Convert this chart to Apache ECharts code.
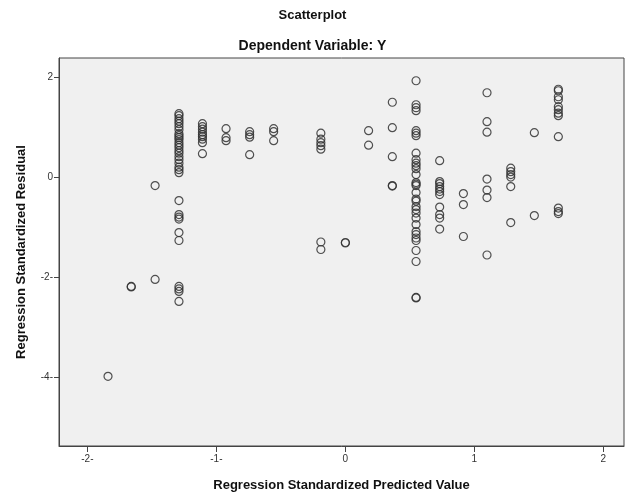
<!DOCTYPE html>
<html>
<head>
<meta charset="utf-8">
<script src="https://cdn.jsdelivr.net/npm/echarts@6/dist/echarts.min.js"></script>
<style>html,body{margin:0;padding:0;background:#fff}#c{width:625px;height:497px}</style>
</head>
<body>
<div id="c"></div>
<script>
// Regression standardized predicted value (x) and residual (y)
const predicted = [
  -1.84, -1.66, -1.66, -1.475, -1.475,
  -1.29,-1.29,-1.29,-1.29,-1.29,-1.29,-1.29,-1.29,-1.29,-1.29,-1.29,-1.29,-1.29,-1.29,-1.29,-1.29,-1.29,-1.29,-1.29,-1.29,-1.29,-1.29,
  -1.29,-1.29,-1.29,-1.29,-1.29,-1.29,-1.29,-1.29,-1.29,-1.29,
  -1.108,-1.108,-1.108,-1.108,-1.108,-1.108,-1.108,-1.108,-1.108,
  -0.925,-0.925,-0.925,
  -0.742,-0.742,-0.742,-0.742,
  -0.556,-0.556,-0.556,
  -0.19,-0.19,-0.19,-0.19,-0.19,-0.19,-0.19,
  0.0, 0.0,
  0.18, 0.18,
  0.364,0.364,0.364,0.364,0.364,
  0.548,0.548,0.548,0.548,0.548,0.548,0.548,0.548,0.548,0.548,0.548,0.548,0.548,0.548,0.548,0.548,0.548,0.548,
  0.548,0.548,0.548,0.548,0.548,0.548,0.548,0.548,0.548,0.548,0.548,0.548,0.548,0.548,
  0.731,0.731,0.731,0.731,0.731,0.731,0.731,0.731,0.731,0.731,0.731,
  0.915,0.915,0.915,
  1.098,1.098,1.098,1.098,1.098,1.098,1.098,
  1.282,1.282,1.282,1.282,1.282,1.282,
  1.465,1.465,
  1.651,1.651,1.651,1.651,1.651,1.651,1.651,1.651,1.651,1.651,1.651,1.651
];
const residual = [
  -3.99, -2.19, -2.2, -0.17, -2.05,
  1.27,1.23,1.17,1.12,1.07,1.01,0.95,0.87,0.83,0.79,0.75,0.69,0.64,0.59,0.53,0.48,0.41,0.35,0.28,0.20,0.15,0.09,
  -0.47,-0.75,-0.80,-0.84,-1.11,-1.27,-2.19,-2.24,-2.29,-2.49,
  1.07,1.01,0.96,0.90,0.85,0.81,0.76,0.69,0.47,
  0.97,0.79,0.73,
  0.91,0.85,0.80,0.45,
  0.97,0.91,0.73,
  0.88,0.76,0.69,0.63,0.56,-1.30,-1.45,
  -1.31,-1.32,
  0.93,0.64,
  1.50,0.99,0.41,-0.17,-0.18,
  1.93,1.45,1.39,1.33,0.93,0.88,0.83,0.48,0.35,0.28,0.23,0.17,0.05,-0.11,-0.14,-0.17,-0.31,-0.44,
  -0.48,-0.59,-0.65,-0.72,-0.82,-0.95,-1.09,-1.15,-1.22,-1.27,-1.47,-1.69,-2.41,-2.42,
  0.33,-0.09,-0.13,-0.19,-0.24,-0.29,-0.35,-0.60,-0.75,-0.82,-1.04,
  -0.33,-0.55,-1.19,
  1.69,1.11,0.90,-0.04,-0.26,-0.41,-1.56,
  0.18,0.11,0.05,0.0,-0.19,-0.91,
  0.89,-0.77,
  1.76,1.73,1.61,1.55,1.41,1.35,1.28,1.23,0.81,-0.62,-0.69,-0.73
];
const xTicks = [-2, -1, 0, 1, 2];
const yTicks = [-4, -2, 0, 2];

const points = predicted.map((x, i) => [x, residual[i]]);
const fmt = v => (v < 0 ? v + '-' : String(v));
const FONT = '"Liberation Sans", Arial, sans-serif';

const chart = echarts.init(document.getElementById('c'));
chart.setOption({
  animation: false,
  backgroundColor: '#ffffff',
  title: [
    { text: 'Scatterplot', left: 'center', top: 4,
      textStyle: { fontFamily: FONT, fontWeight: 'bold', fontSize: 13, color: '#111' } },
    { text: 'Dependent Variable: Y', left: 'center', top: 34,
      textStyle: { fontFamily: FONT, fontWeight: 'bold', fontSize: 14, color: '#111' } }
  ],
  grid: {
    left: 59, top: 58, right: 1, bottom: 51,
    show: true, backgroundColor: '#f0f0f0', borderColor: '#444', borderWidth: 1
  },
  xAxis: {
    type: 'value', min: -2.22, max: 2.16,
    name: 'Regression Standardized Predicted Value',
    nameLocation: 'middle', nameGap: 33,
    nameTextStyle: { fontFamily: FONT, fontWeight: 'bold', fontSize: 13, color: '#111' },
    splitLine: { show: false },
    axisLine: { show: true, onZero: false, lineStyle: { color: '#444' } },
    axisTick: { show: true, inside: false, length: 6, customValues: xTicks, lineStyle: { color: '#444' } },
    axisLabel: { customValues: xTicks, formatter: fmt, fontFamily: FONT, fontSize: 10, color: '#333', margin: 8 }
  },
  yAxis: {
    type: 'value', min: -5.386, max: 2.386,
    name: 'Regression Standardized Residual',
    nameLocation: 'middle', nameGap: 31, nameRotate: 90,
    nameTextStyle: { fontFamily: FONT, fontWeight: 'bold', fontSize: 13, color: '#111' },
    splitLine: { show: false },
    axisLine: { show: true, onZero: false, lineStyle: { color: '#444' } },
    axisTick: { show: true, inside: false, length: 5, customValues: yTicks, lineStyle: { color: '#444' } },
    axisLabel: { customValues: yTicks, formatter: fmt, fontFamily: FONT, fontSize: 10, color: '#333', margin: 6 }
  },
  series: [{
    type: 'scatter',
    data: points,
    symbol: 'circle',
    symbolSize: 8,
    itemStyle: { color: 'rgba(0,0,0,0)', borderColor: '#333', borderWidth: 1.2, opacity: 0.85 }
  }]
});
</script>
</body>
</html>
